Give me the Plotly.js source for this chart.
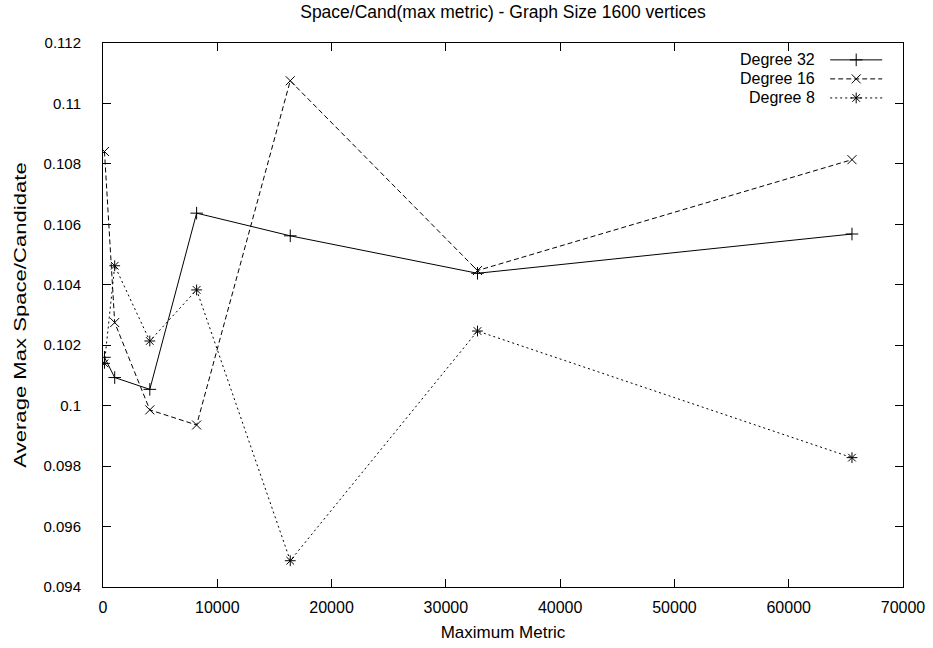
<!DOCTYPE html>
<html><head><meta charset="utf-8">
<script src="https://cdn.plot.ly/plotly-3.0.1.min.js"></script>
<style>html,body{margin:0;padding:0;background:#fff}</style>
</head><body><div id="chart" style="width:933px;height:648px"></div>
<script>
// ---- data ----
const metric = [128, 1024, 4096, 8192, 16384, 32768, 65536];
const degree32 = [0.1016, 0.10093, 0.10054, 0.10637, 0.10562, 0.10438, 0.10568];
const degree16 = [0.10841, 0.10275, 0.09986, 0.09936, 0.11075, 0.10447, 0.10814];
const degree8  = [0.1014, 0.10463, 0.10214, 0.10383, 0.09487, 0.10247, 0.09828];
const seriesNames = ['Degree 32', 'Degree 16', 'Degree 8'];
const xTickVals = [0, 10000, 20000, 30000, 40000, 50000, 60000, 70000];
const yTickVals = [0.094, 0.096, 0.098, 0.1, 0.102, 0.104, 0.106, 0.108, 0.11, 0.112];
const yTickText = ['0.094', '0.096', '0.098', '0.1', '0.102', '0.104', '0.106', '0.108', '0.11', '0.112'];

const FONT = 'Liberation Sans, Arial, sans-serif';
const styles = [
  {dash: 'solid', symbol: 'cross-thin-open'},
  {dash: '5px,3px', symbol: 'x-thin-open'},
  {dash: '2px,3px', symbol: 'asterisk-open'}
];
const seriesY = [degree32, degree16, degree8];

const traces = seriesY.map((ys, i) => ({
  type: 'scatter', mode: 'lines+markers', name: seriesNames[i],
  x: metric, y: ys, xaxis: 'x', yaxis: 'y', showlegend: false,
  line: {color: '#000', width: 1, dash: styles[i].dash},
  marker: {symbol: styles[i].symbol, size: 9, color: '#000', line: {color: '#000', width: 1}},
  hoverinfo: 'skip'
}));

// gnuplot-style key (text on the left, sample on the right) drawn on an overlay axis
const keyRows = [0.969, 0.934, 0.899];
seriesY.forEach((ys, i) => {
  traces.push({
    type: 'scatter', mode: 'lines+markers', xaxis: 'x2', yaxis: 'y2', showlegend: false,
    x: [0.909, 0.9415, 0.974], y: [keyRows[i], keyRows[i], keyRows[i]],
    line: {color: '#000', width: 1, dash: styles[i].dash},
    marker: {symbol: styles[i].symbol, size: 9, color: '#000', opacity: [0, 1, 0], line: {color: '#000', width: 1}},
    hoverinfo: 'skip'
  });
});

const annotations = seriesNames.map((n, i) => ({
  xref: 'paper', yref: 'paper', x: 0.8925, y: keyRows[i], xanchor: 'right', yanchor: 'middle',
  text: n, showarrow: false, font: {family: FONT, size: 16, color: '#000'}
}));

const layout = {
  width: 933, height: 648,
  margin: {l: 103, r: 30, t: 43, b: 61, pad: 0},
  paper_bgcolor: '#fff', plot_bgcolor: '#fff',
  font: {family: FONT, size: 15, color: '#000'},
  title: {text: 'Space/Cand(max metric) - Graph Size 1600 vertices', font: {family: FONT, size: 17.5, color: '#000'},
          x: 0.5, xref: 'paper', y: 1 - 12/648, yref: 'container', yanchor: 'middle'},
  showlegend: false,
  xaxis: {
    range: [0, 70000], tickvals: xTickVals, tickformat: 'd',
    ticks: 'inside', ticklen: 8, tickwidth: 1, tickcolor: '#000',
    showline: true, linecolor: '#000', linewidth: 1, mirror: 'ticks',
    showgrid: false, zeroline: false, ticklabelstandoff: 6,
    tickfont: {family: FONT, size: 16},
    title: {text: 'Maximum Metric', standoff: 10, font: {family: FONT, size: 17}},
    automargin: false
  },
  yaxis: {
    range: [0.094, 0.112], tickvals: yTickVals, ticktext: yTickText,
    ticks: 'inside', ticklen: 8, tickwidth: 1, tickcolor: '#000',
    showline: true, linecolor: '#000', linewidth: 1, mirror: 'ticks',
    showgrid: false, zeroline: false, ticklabelstandoff: 18,
    tickfont: {family: FONT, size: 15},
    title: {text: 'Average Max Space/Candidate', standoff: 12, font: {family: FONT, size: 17}},
    automargin: false
  },
  xaxis2: {overlaying: 'x', range: [0, 1], visible: false, fixedrange: true},
  yaxis2: {overlaying: 'y', range: [0, 1], visible: false, fixedrange: true},
  annotations: annotations
};

Plotly.newPlot('chart', traces, layout, {staticPlot: true, displayModeBar: false}).then(gd => {
  // the reference's vertical label is elongated along its length; stretch it the same way
  const t = gd.querySelector('.ytitle');
  if (t) {
    const x = +t.getAttribute('x'), y = +t.getAttribute('y');
    const tr = t.getAttribute('transform') || '';
    t.setAttribute('transform', tr + ' translate(' + x + ',' + y + ') scale(1.3,1) translate(' + (-x) + ',' + (-y) + ')');
  }
});
</script>
</body></html>
